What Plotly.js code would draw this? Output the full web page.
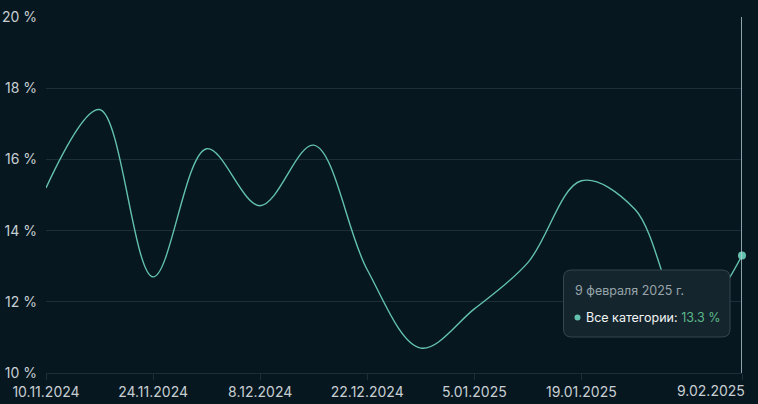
<!DOCTYPE html>
<html>
<head>
<meta charset="utf-8">
<script src="https://cdn.plot.ly/plotly-3.0.1.min.js"></script>
<style>
html,body{margin:0;padding:0;background:#071720;}
#chart{width:758px;height:404px;}
</style>
</head>
<body>
<div id="chart"></div>
<script>
// Data
var dates = ["2024-11-10","2024-11-17","2024-11-24","2024-12-01","2024-12-08","2024-12-15","2024-12-22","2024-12-29","2025-01-05","2025-01-12","2025-01-19","2025-01-26","2025-02-02","2025-02-09"];
var shares = [15.2, 17.4, 12.7, 16.3, 14.7, 16.4, 12.9, 10.7, 11.8, 13.1, 15.4, 14.6, 11.4, 13.3];
var tickDates = ["2024-11-10","2024-11-24","2024-12-08","2024-12-22","2025-01-05","2025-01-19","2025-02-09"];
var tickLabels = ["10.11.2024","24.11.2024","8.12.2024","22.12.2024","5.01.2025","19.01.2025","9.02.2025"];
var yTicks = [10, 12, 14, 16, 18, 20];
var yTickLabels = ["10 %", "12 %", "14 %", "16 %", "18 %", "20 %"];
var seriesName = "Все категории";
var tooltipDate = "9 февраля 2025 г.";

var W = 758, H = 404;
var m = {l:46, r:16, t:17, b:31};
var pw = W - m.l - m.r, ph = H - m.t - m.b;
function px2x(px){ return (px - m.l)/pw; }
function px2y(py){ return (H - m.b - py)/ph; }

var lastIdx = shares.length - 1;
var lastDate = dates[lastIdx];
var lastVal = shares[lastIdx];

var lineColor = "#63c2ad";
var gridColor = "#1c2e38";
var tickColor = "#c7cfd3";

var trace = {
  x: dates, y: shares, type: "scatter", mode: "lines",
  line: {color: lineColor, width: 1.4, shape: "spline", smoothing: 1},
  hoverinfo: "skip", showlegend: false
};
var marker = {
  x: [lastDate], y: [lastVal], type: "scatter", mode: "markers",
  marker: {color: lineColor, size: 8}, hoverinfo: "skip", showlegend: false,
  cliponaxis: false
};

// tooltip box geometry (pixels)
var bx0 = 563.5, bx1 = 730, by0 = 270, by1 = 337, r = 8;
function roundRect(x0, y0, x1, y1, rad){
  var rx = rad/pw, ry = rad/ph;
  var X0 = px2x(x0), X1 = px2x(x1), Y0 = px2y(y0), Y1 = px2y(y1); // Y0 top
  return "M " + (X0+rx) + "," + Y0 +
    " L " + (X1-rx) + "," + Y0 +
    " Q " + X1 + "," + Y0 + " " + X1 + "," + (Y0-ry) +
    " L " + X1 + "," + (Y1+ry) +
    " Q " + X1 + "," + Y1 + " " + (X1-rx) + "," + Y1 +
    " L " + (X0+rx) + "," + Y1 +
    " Q " + X0 + "," + Y1 + " " + X0 + "," + (Y1+ry) +
    " L " + X0 + "," + (Y0-ry) +
    " Q " + X0 + "," + Y0 + " " + (X0+rx) + "," + Y0 + " Z";
}

var layout = {
  width: W, height: H,
  margin: m,
  paper_bgcolor: "#071720",
  plot_bgcolor: "#071720",
  font: {family: "Inter, 'Noto Sans', sans-serif", size: 14, color: tickColor},
  hovermode: false,
  xaxis: {
    type: "date",
    range: [dates[0], lastDate],
    tickvals: tickDates,
    ticktext: tickLabels.slice(0, tickLabels.length - 1).concat([""]),
    showgrid: false,
    zeroline: false,
    showline: true, linecolor: gridColor, linewidth: 1,
    ticks: "outside", ticklen: 6, tickcolor: gridColor, tickwidth: 1,
    tickfont: {size: 14, color: tickColor},
    fixedrange: true
  },
  yaxis: {
    range: [10, 20],
    tickvals: yTicks,
    ticktext: yTickLabels,
    showgrid: true, gridcolor: gridColor, gridwidth: 1,
    zeroline: false, showline: false,
    ticks: "", ticklabelstandoff: 8,
    tickfont: {size: 14, color: tickColor},
    fixedrange: true
  },
  shapes: [
    {type: "line", xref: "x", yref: "paper", x0: lastDate, x1: lastDate, y0: 0, y1: 1,
     line: {color: "#b9d3da", width: 1.5}, layer: "above"},
    {type: "path", xref: "paper", yref: "paper", path: roundRect(bx0, by0, bx1, by1, r),
     fillcolor: "#15252d", line: {color: "#344750", width: 1}, layer: "above"},
    {type: "circle", xref: "paper", yref: "paper",
     x0: px2x(574.5), x1: px2x(580.5), y0: px2y(320.5), y1: px2y(314.5),
     fillcolor: lineColor, line: {width: 0}, layer: "above"}
  ],
  annotations: [
    {xref: "x", yref: "paper", x: lastDate, y: 0, xanchor: "right", yanchor: "top",
     yshift: -7, xshift: 5, text: tickLabels[tickLabels.length - 1], showarrow: false,
     font: {size: 14, color: tickColor}},
    {xref: "paper", yref: "paper", x: px2x(573), y: px2y(290), xanchor: "left", yanchor: "middle",
     text: tooltipDate, showarrow: false, font: {size: 12.5, color: "#97a5ab"}},
    {xref: "paper", yref: "paper", x: px2x(584), y: px2y(317.5), xanchor: "left", yanchor: "middle",
     text: seriesName + ': <span style="color:#5cb98b">' + lastVal.toFixed(1) + ' %</span>',
     showarrow: false, font: {size: 12.5, color: "#f2f5f6"}}
  ]
};

Plotly.newPlot("chart", [trace, marker], layout, {displayModeBar: false, staticPlot: true});
</script>
</body>
</html>
